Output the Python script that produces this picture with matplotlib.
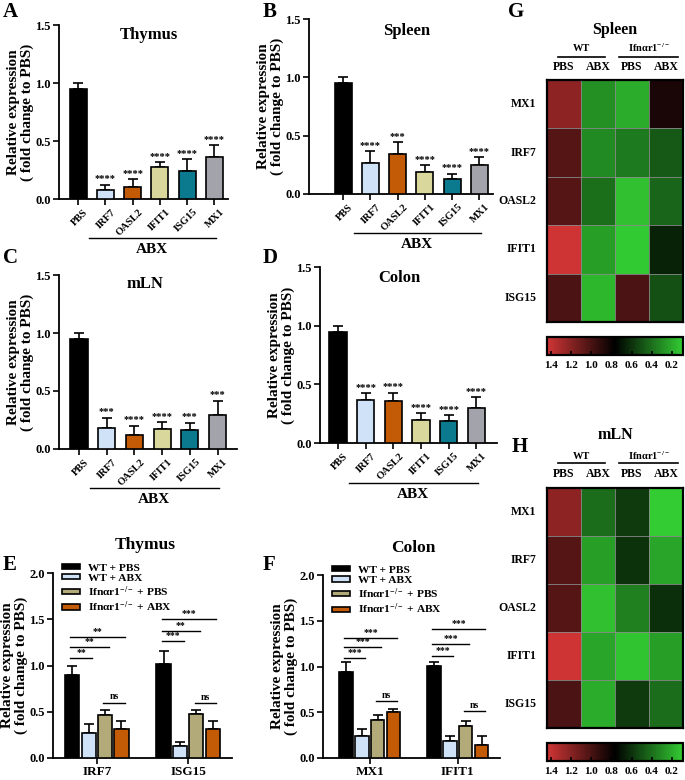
import numpy as np
import matplotlib
matplotlib.use("Agg")
import matplotlib.pyplot as plt
import matplotlib.transforms as mtrans
from matplotlib.colors import LinearSegmentedColormap, Normalize

plt.rcParams['font.family'] = ['Liberation Serif', 'DejaVu Serif']
plt.rcParams['font.weight'] = 'bold'
plt.rcParams['axes.labelweight'] = 'bold'
plt.rcParams['mathtext.fontset'] = 'custom'
plt.rcParams['mathtext.rm'] = 'Liberation Serif:bold'
plt.rcParams['mathtext.it'] = 'Liberation Serif:bold'
plt.rcParams['mathtext.bf'] = 'Liberation Serif:bold'
plt.rcParams['mathtext.default'] = 'bf'
plt.rcParams['axes.linewidth'] = 1.3

# ---- panels A-D : ABX vs PBS ----
genes = ["PBS", "IRF7", "OASL2", "IFIT1", "ISG15", "MX1"]
bar_colors = ["#000000", "#cfe2f8", "#c35a05", "#d9d79c", "#0b7a8f", "#a3a3ab"]

thymus_mean = [0.95, 0.08, 0.10, 0.275, 0.245, 0.365]
thymus_err = [0.05, 0.045, 0.07, 0.04, 0.10, 0.10]
thymus_sig = ["****", "****", "****", "****", "****"]

spleen_mean = [0.95, 0.265, 0.34, 0.19, 0.13, 0.245]
spleen_err = [0.05, 0.10, 0.105, 0.055, 0.045, 0.07]
spleen_sig = ["****", "***", "****", "****", "****"]

mln_mean = [0.95, 0.18, 0.12, 0.175, 0.165, 0.29]
mln_err = [0.05, 0.09, 0.08, 0.055, 0.06, 0.125]
mln_sig = ["***", "****", "****", "***", "***"]

colon_mean = [0.95, 0.365, 0.36, 0.195, 0.185, 0.295]
colon_err = [0.05, 0.06, 0.07, 0.06, 0.05, 0.095]
colon_sig = ["****", "****", "****", "****", "****"]

# ---- panels E-F : WT / Ifnar1 KO ----
conds = ["WT + PBS", "WT + ABX", "Ifnαr1$^{-/-}$ + PBS", "Ifnαr1$^{-/-}$ + ABX"]
cond_colors = ["#000000", "#cfe2f8", "#b3aa7a", "#c35a05"]

e_genes = ["IRF7", "ISG15"]
e_mean = [[0.90, 1.02], [0.265, 0.13], [0.47, 0.48], [0.31, 0.31]]
e_err = [[0.10, 0.135], [0.10, 0.045], [0.045, 0.04], [0.095, 0.09]]
e_sig = [(0, 0, 1, 1.08, "**"), (0, 0, 2, 1.20, "**"), (0, 0, 3, 1.31, "**"), (0, 2, 3, 0.60, "ns"),
         (1, 0, 1, 1.26, "***"), (1, 0, 2, 1.37, "**"), (1, 0, 3, 1.50, "***"), (1, 2, 3, 0.59, "ns")]

f_genes = ["MX1", "IFIT1"]
f_mean = [[0.94, 1.01], [0.24, 0.185], [0.415, 0.355], [0.50, 0.145]]
f_err = [[0.11, 0.04], [0.075, 0.055], [0.06, 0.05], [0.04, 0.095]]
f_sig = [(0, 0, 1, 1.09, "***"), (0, 0, 2, 1.21, "***"), (0, 0, 3, 1.31, "***"), (0, 2, 3, 0.62, "ns"),
         (1, 0, 1, 1.11, "***"), (1, 0, 2, 1.25, "***"), (1, 0, 3, 1.41, "***"), (1, 2, 3, 0.51, "ns")]

# ---- heatmaps G-H ----
hm_rows = ["MX1", "IRF7", "OASL2", "IFIT1", "ISG15"]
hm_cols = ["PBS", "ABX", "PBS", "ABX"]
spleen_hm = [[1.22, 0.29, 0.20, 0.85],
             [1.04, 0.31, 0.36, 0.47],
             [1.04, 0.40, 0.13, 0.43],
             [1.43, 0.24, 0.10, 0.65],
             [1.01, 0.16, 1.01, 0.50]]
mln_hm = [[1.22, 0.41, 0.57, 0.09],
          [1.04, 0.24, 0.60, 0.22],
          [1.04, 0.13, 0.34, 0.61],
          [1.43, 0.22, 0.12, 0.24],
          [1.01, 0.20, 0.57, 0.41]]
cbar_ticks = [1.4, 1.2, 1.0, 0.8, 0.6, 0.4, 0.2]

W, H = 685, 780
fig = plt.figure(figsize=(W / 100, H / 100), dpi=100)


def px_axes(l, t, r, b):
    return fig.add_axes([l / W, 1 - b / H, (r - l) / W, (b - t) / H])


def style_axis(ax, ymax, step):
    ax.spines['top'].set_visible(False)
    ax.spines['right'].set_visible(False)
    ax.set_ylim(0, ymax)
    ticks = np.arange(0, ymax + 0.01, step)
    ax.set_yticks(ticks)
    ax.set_yticklabels([f"{v:.1f}" for v in ticks], fontsize=9)
    ax.tick_params(direction='out', length=4, width=1.2, pad=2)
    ax.set_ylabel("Relative expression\n( fold change to PBS)", fontsize=11, labelpad=1,
                  linespacing=1.05)


def bar_panel(box, means, errs, sig, title, title_xy, xlim):
    ax = px_axes(*box)
    x = np.arange(len(genes))
    ax.bar(x, means, width=0.62, color=bar_colors, edgecolor='k', linewidth=1.2, zorder=3)
    ax.errorbar(x, means, yerr=[np.zeros(len(x)), errs], fmt='none', ecolor='k',
                elinewidth=1.2, capsize=3.5, capthick=1.2, zorder=2)
    for xi, m, e, s in zip(x[1:], means[1:], errs[1:], sig):
        ax.text(xi, m + e + 0.012, s, ha='center', va='bottom', fontsize=7.5)
    style_axis(ax, 1.5, 0.5)
    ax.set_xlim(*xlim)
    ax.set_xticks(x)
    ax.set_xticklabels(genes, rotation=45, ha='right', va='top', rotation_mode='anchor',
                       fontsize=7.5)
    off = mtrans.ScaledTranslation(4 / 72, 0, fig.dpi_scale_trans)
    for lab in ax.get_xticklabels():
        lab.set_transform(lab.get_transform() + off)
    tr = mtrans.blended_transform_factory(ax.transData, ax.transAxes)
    ax.plot([0.4, 5.05], [-0.225, -0.225], transform=tr, color='k', lw=1.0, clip_on=False)
    ax.text(2.72, -0.29, "ABX", transform=tr, ha='center', va='center', fontsize=11)
    ax.text(title_xy[0], title_xy[1], title, transform=ax.transAxes, ha='center', va='center',
            fontsize=12)
    return ax


def group_panel(box, glabels, means, errs, sig, xlim):
    ax = px_axes(*box)
    pitch, width = 0.18, 0.155
    xg = np.arange(len(glabels))
    centers = []
    for k in range(4):
        xc = xg + (k - 1.5) * pitch
        centers.append(xc)
        ax.bar(xc, means[k], width=width, color=cond_colors[k], edgecolor='k', linewidth=1.2,
               zorder=3, label=conds[k])
        ax.errorbar(xc, means[k], yerr=[np.zeros(len(xg)), errs[k]], fmt='none', ecolor='k',
                    elinewidth=1.2, capsize=3.5, capthick=1.2, zorder=2)
    for g, i, j, y, s in sig:
        x0, x1 = centers[i][g] - 0.02, centers[j][g] + 0.04
        ax.plot([x0, x1], [y, y], color='k', lw=1.0)
        ax.text((x0 + x1) / 2, y + 0.012, s, ha='center', va='bottom',
                fontsize=7 if s != "ns" else 7)
    style_axis(ax, 2.0, 0.5)
    ax.set_xlim(*xlim)
    ax.set_xticks(xg)
    ax.set_xticklabels(glabels, fontsize=9.5)
    ax.legend(loc='upper left', bbox_to_anchor=(0.05, 1.05), frameon=False, fontsize=8.2,
              handlelength=1.6, handleheight=0.35, labelspacing=0.1, handletextpad=0.7,
              borderaxespad=0, borderpad=0)
    return ax


cmap = LinearSegmentedColormap.from_list("gr", ["#33cc33", "#000000", "#d03535"])
norm = Normalize(vmin=0.09, vmax=1.44)


def heat_panel(box, cbox, data, title, ys):
    ax = px_axes(*box)
    ax.imshow(np.array(data), cmap=cmap, norm=norm, aspect='auto',
              extent=(0, 4, 5, 0), interpolation='nearest')
    for i in range(1, 4):
        ax.axvline(i, color='#8a8a8a', lw=0.6)
    for i in range(1, 5):
        ax.axhline(i, color='#8a8a8a', lw=0.6)
    ax.set_xticks([])
    ax.set_yticks([])
    for sp in ax.spines.values():
        sp.set_linewidth(1.6)
    for r, name in enumerate(hm_rows):
        ax.text(-0.08, 1 - (r + 0.5) / 5, name, transform=ax.transAxes, ha='right',
                va='center', fontsize=8.5)
    t_y, grp_y, line_y, col_y = ys
    for c, name in enumerate(hm_cols):
        ax.text((c + 0.5) / 4, col_y, name, transform=ax.transAxes, ha='center', va='center',
                fontsize=8.5)
    ax.text(0.25, grp_y, "WT", transform=ax.transAxes, ha='center', va='center', fontsize=7.5)
    ax.text(0.75, grp_y, "Ifnαr1$^{-/-}$", transform=ax.transAxes, ha='center', va='center',
            fontsize=7.5)
    ax.plot([0.08, 0.43], [line_y, line_y], transform=ax.transAxes, color='k', lw=1.2,
            clip_on=False)
    ax.plot([0.53, 0.96], [line_y, line_y], transform=ax.transAxes, color='k', lw=1.2,
            clip_on=False)
    ax.text(0.5, t_y, title, transform=ax.transAxes, ha='center', va='center', fontsize=11.5)

    cax = px_axes(*cbox)
    sm = matplotlib.cm.ScalarMappable(norm=norm, cmap=cmap)
    cb = fig.colorbar(sm, cax=cax, orientation='horizontal', ticks=cbar_ticks)
    cb.outline.set_linewidth(1.6)
    cax.invert_xaxis()
    cax.tick_params(direction='in', length=3, width=1.2, labelsize=8, pad=4)
    cax.set_xticklabels([f"{v:.1f}" for v in cbar_ticks])
    return ax


bar_panel((59, 25, 228, 199), thymus_mean, thymus_err, thymus_sig, "Thymus", (0.53, 0.94),
          (-0.7, 5.5))
bar_panel((309, 19, 493, 194), spleen_mean, spleen_err, spleen_sig, "Spleen", (0.53, 0.93),
          (-1.25, 5.5))
bar_panel((59, 275, 237, 449), mln_mean, mln_err, mln_sig, "mLN", (0.48, 0.95),
          (-0.72, 5.7))
bar_panel((320, 267, 497, 443), colon_mean, colon_err, colon_sig, "Colon", (0.45, 0.94),
          (-0.65, 5.75))

group_panel((53, 573, 232, 758), e_genes, e_mean, e_err, e_sig, (-0.48, 1.48))
group_panel((323, 575, 500, 758), f_genes, f_mean, f_err, f_sig, (-0.53, 1.48))
fig.text(145 / W, 1 - 545 / H, "Thymus", ha='center', va='center', fontsize=12.5)
fig.text(413 / W, 1 - 548 / H, "Colon", ha='center', va='center', fontsize=12.5)

heat_panel((547, 80, 683, 322), (547, 337, 683, 355), spleen_hm, "Spleen",
           (1.207, 1.132, 1.095, 1.054))
heat_panel((547, 488, 683, 728), (547, 743, 683, 761), mln_hm, "mLN",
           (1.221, 1.133, 1.104, 1.058))

# panel letters
for letter, (lx, ly) in {"A": (3, 12), "B": (263, 12), "C": (3, 258), "D": (263, 258),
                         "E": (3, 565), "F": (263, 565), "G": (508, 12), "H": (512, 447)}.items():
    fig.text(lx / W, 1 - ly / H, letter, ha='left', va='center', fontsize=15)

fig.savefig("out.png", dpi=100)
